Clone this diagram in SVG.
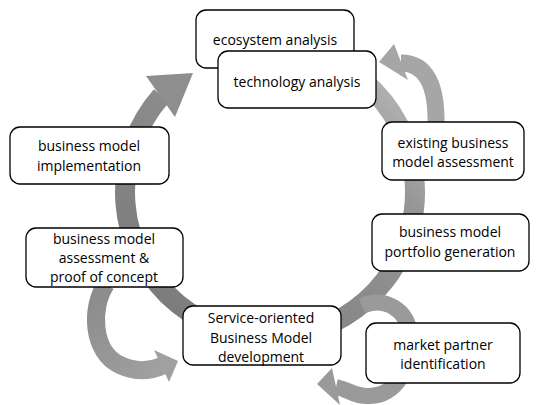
<svg xmlns="http://www.w3.org/2000/svg" width="537" height="405" viewBox="0 0 537 405">
<defs>
<linearGradient id="ringGrad" gradientUnits="userSpaceOnUse" x1="420" y1="60" x2="160" y2="330">
<stop offset="0" stop-color="#c2c2c2"/>
<stop offset="0.3" stop-color="#959595"/>
<stop offset="1" stop-color="#7a7a7a"/>
</linearGradient>
<linearGradient id="cGrad" gradientUnits="userSpaceOnUse" x1="100" y1="290" x2="175" y2="370">
<stop offset="0" stop-color="#8c8c8c"/>
<stop offset="1" stop-color="#a2a2a2"/>
</linearGradient>
</defs>
<style>
.box{fill:#ffffff;stroke:#000000;stroke-width:1.3}
.lbl{font-family:"Open Sans","Liberation Sans",sans-serif;font-size:14px;fill:#000000;text-anchor:middle}
.band{fill:none}
</style>
<rect width="537" height="405" fill="#ffffff"/>
<g id="connectors">
<path class="band" d="M 353.2 73.2 A 145 145 0 1 1 161.4 95.9" stroke="url(#ringGrad)" stroke-width="20"/>
<polygon points="146,76 193,73 175,117" fill="#8e8e8e"/>
<path class="band" d="M 401 63 C 426 63, 437 85, 436 126" stroke="#a6a6a6" stroke-width="17"/>
<polygon points="379,62 394,44 408,80" fill="#a6a6a6"/>
<path class="band" d="M 106 284 C 90 308, 92 352, 120 365 C 135 372, 148 372, 162 366" stroke="url(#cGrad)" stroke-width="18"/>
<polygon points="154,350 178,361 169,382" fill="#a0a0a0"/>
<path class="band" d="M 362 306 C 385 296, 408 310, 410 335 C 412 370, 395 395, 370 396 C 355 397, 350 390, 336 387" stroke="#9a9a9a" stroke-width="16"/>
<polygon points="317,384 332,368 340,405" fill="#9a9a9a"/>
</g>
<g id="ecosystem">
<rect class="box" x="196" y="10" width="158" height="58" rx="10"/>
<text class="lbl" x="275" y="45">ecosystem analysis</text>
</g>
<g id="technology">
<rect class="box" x="218" y="51" width="158" height="57" rx="10"/>
<text class="lbl" x="297" y="87">technology analysis</text>
</g>
<g id="implementation">
<rect class="box" x="10" y="127" width="159" height="57" rx="10"/>
<text class="lbl" x="89" y="151">business model</text>
<text class="lbl" x="89" y="171">implementation</text>
</g>
<g id="existing">
<rect class="box" x="382" y="122" width="142" height="58" rx="10"/>
<text class="lbl" x="453" y="148">existing business</text>
<text class="lbl" x="453" y="167">model assessment</text>
</g>
<g id="portfolio">
<rect class="box" x="372" y="214" width="157" height="57" rx="10"/>
<text class="lbl" x="450" y="237">business model</text>
<text class="lbl" x="450" y="257">portfolio generation</text>
</g>
<g id="proof">
<rect class="box" x="26" y="228" width="157" height="59" rx="10"/>
<text class="lbl" x="104" y="244">business model</text>
<text class="lbl" x="104" y="263">assessment &amp;</text>
<text class="lbl" x="104" y="282">proof of concept</text>
</g>
<g id="service">
<rect class="box" x="183" y="306" width="158" height="59" rx="10"/>
<text class="lbl" x="261" y="323">Service-oriented</text>
<text class="lbl" x="261" y="343">Business Model</text>
<text class="lbl" x="261" y="362">development</text>
</g>
<g id="market">
<rect class="box" x="366" y="323" width="154" height="60" rx="10"/>
<text class="lbl" x="443" y="350">market partner</text>
<text class="lbl" x="443" y="369">identification</text>
</g>
</svg>
